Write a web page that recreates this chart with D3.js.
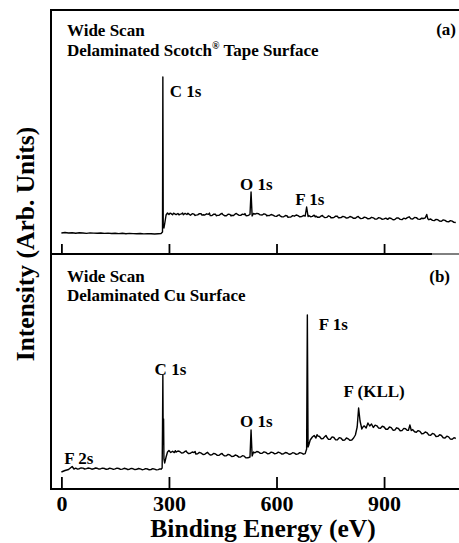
<!DOCTYPE html>
<html>
<head>
<meta charset="utf-8">
<script src="https://cdn.jsdelivr.net/npm/d3@7"></script>
<style>
  body { margin: 0; background: #fff; }
  svg text { font-family: "Liberation Serif", "Times New Roman", serif; font-weight: bold; fill: #000; }
</style>
</head>
<body>
<script>
// dimensions
var width = 459, height = 543;
var frameLeft = 51, frameRight = 459;
var topY0 = 10, midY = 254, botY = 489;

// data: [binding energy (eV), intensity (arb.)]
var tickValues = [0, 300, 600, 900];
var panelTags = ["(a)", "(b)"];

var scotchSpectrum = [
  [0,21],[10,21.5],[20,21],[30,21.3],[40,20.8],[50,21.2],[60,21],[70,20.6],[80,21.1],[90,20.9],
  [100,20.7],[110,21],[120,20.6],[130,20.9],[140,20.5],[150,20.8],[160,20.4],[170,20.7],[180,20.3],[190,20.6],
  [200,20.4],[210,20.2],[220,20.5],[230,20.1],[240,20.4],[250,20.2],[260,20],[270,20.3],[278,20.5],[282,22],
  [283,177],[284,30],[286,26],[288,30],[292,39],[296,41],[300,39.5],[303,40.9],[305,40.6],[310,39.2],[313,40.8],[315,40.4],[320,39.4],
  [325,40.5],[328,39.1],[330,39.6],[335,40.2],[338,41],[340,39.2],[345,40.6],[350,39.5],[353,40.7],[355,40.1],[360,38.8],[365,40.3],[370,39.8],
  [373,38.5],[375,38.9],[380,39.1],[385,40.4],[390,40.3],[392,38.9],[395,39.2],[400,39],[405,40.2],[410,39.6],[413,40.9],[415,38.4],[420,38.5],
  [425,39.9],[430,39.8],[432,38.2],[435,38.6],[440,38.7],[445,40.1],[448,40.7],[450,39.5],[455,38.3],[460,38.2],[465,39.8],[470,39.6],
  [473,38.1],[475,38.7],[480,38.4],[485,40.1],[488,40.6],[490,39.9],[495,38.8],[500,38.6],[505,39.9],[510,39.3],[512,40.4],[515,38.3],[520,38.4],
  [526,39.5],[529,62],[532,38],[536,40.5],[540,39.8],[545,40.6],[550,40.3],[553,39.4],[555,39.1],[560,39],[565,40.2],
  [570,39.6],[573,38.1],[575,38.6],[580,38.4],[585,39.5],[590,38.9],[595,37.9],[600,37.6],[605,38.8],[608,39.2],[610,38.2],[615,37.1],
  [620,37.2],[625,38.5],[630,38],[632,36.6],[635,36.9],[640,37],[645,38.4],[650,37.8],[655,39],[660,38.3],[665,37.2],
  [670,37.4],[675,38.5],[680,38],[684,47],[688,37.5],[690,38.4],[695,37.3],[700,37.6],[705,38.8],[708,37.1],[710,37.9],
  [715,36.7],[720,36.8],[725,38.1],[728,38.6],[730,37.5],[735,36.4],[740,36.6],[745,38.2],[750,37.4],[752,36.1],[755,36.3],[760,36.5],
  [765,37.9],[770,37.7],[773,36.1],[775,36.2],[780,36.4],[785,37.6],[790,37.1],[795,35.9],[800,36.2],[805,37.5],[810,36.9],
  [815,35.7],[820,35.8],[825,37.1],[828,37.6],[830,36.6],[835,35.4],[840,35.6],[845,36.9],[850,36.3],[855,35.2],[860,35.4],
  [865,36.7],[870,36.2],[875,34.9],[880,35],[885,36.4],[890,35.9],[895,34.7],[900,35.1],[905,35.9],[910,34.6],
  [915,36.1],[920,35.5],[925,34.2],[930,34.5],[935,36],[940,36],[945,34.6],[950,34.4],[955,35.8],[960,35.2],
  [965,36.3],[970,37.2],[975,35.1],[980,35],[985,36.5],[990,36.4],[995,34.9],[1000,34.6],[1005,35.8],[1010,35.5],
  [1015,36.2],[1019,39.5],[1022,35.2],[1025,34.3],[1030,35],[1035,33.6],[1040,33.4],[1045,34.6],[1050,34.2],[1055,32.9],
  [1060,32.8],[1065,34.1],[1070,33.6],[1075,32.4],[1080,32.2],[1085,33.4],[1090,32.9],[1095,31.6],[1100,31.5]
];

var copperSpectrum = [
  [0,17],[10,18.5],[20,19.5],[25,21],[30,22.5],[35,20],[40,20.8],[45,19.9],[50,20.3],[55,21.1],[60,20.9],
  [65,20],[70,20.4],[75,21],[80,20.6],[85,19.8],[90,20.2],[95,21],[100,20.7],[105,19.9],[110,20.3],[115,20.9],
  [120,20.5],[125,19.7],[130,20],[135,20.8],[140,20.4],[145,19.6],[150,20.1],[155,20.9],[160,20.5],[165,19.6],
  [170,19.9],[175,20.7],[180,20.3],[185,19.5],[190,19.8],[195,20.6],[200,20.2],[205,19.4],[210,19.7],[215,20.5],
  [220,20.1],[225,19.3],[230,19.6],[235,20.4],[240,20],[245,19.2],[250,19.5],[255,20.3],[260,19.9],[265,19.1],
  [270,19.4],[275,20.2],[278,19.8],[281,21],[282,60],[283,114],[284,45],[285,70],[286,30],[288,26],[292,32],
  [296,37],[300,38.5],[303,37.2],[305,36.5],[310,37.8],[315,36.4],[318,38.3],[320,36.9],[325,38],[330,37.5],[335,36],[340,36.2],
  [345,37.6],[348,38.1],[350,36.8],[355,35.4],[360,35.7],[365,37],[370,36.4],[373,37.5],[375,35],[380,35.2],[385,36.6],[390,35.9],
  [395,34.5],[400,34.8],[405,36.1],[408,36.7],[410,35.5],[415,34],[420,34.3],[425,35.6],[430,35],[435,33.6],[440,33.8],
  [445,35.1],[448,35.6],[450,34.5],[455,33.1],[460,33.2],[465,34.6],[470,34],[475,32.5],[480,32.6],[485,34],[490,33.4],
  [495,31.9],[500,32],[505,33.3],[510,32.8],[515,31.1],[520,31.2],[526,32],[529,59],[532,33],[536,37],
  [540,36.2],[545,37.5],[550,37],[555,35.6],[560,35.8],[565,37.1],[570,36.6],[575,35.2],[580,35.5],[585,36.9],
  [590,36.4],[595,35.1],[600,35.6],[605,36.8],[610,36.2],[615,34.9],[620,35.3],[625,36.5],[630,36],[635,34.7],
  [640,35],[645,36.3],[650,35.8],[655,34.6],[660,35.2],[665,36.4],[670,35.9],[675,34.8],[680,35.4],[684,40],
  [686,174],[688,42],[690,44],[694,49],[700,52],[705,53.5],[710,51],[713,54.4],[715,53.2],[720,52.5],[725,50.2],
  [730,50.5],[735,52.6],[738,53.6],[740,52],[745,49.6],[750,49.8],[755,52.1],[760,51.5],[765,49.1],[770,49.2],[775,51.4],
  [780,50.8],[785,48.7],[790,48.9],[795,51],[800,50.2],[805,48.6],[810,49],[815,51],[820,54],[825,62],
  [829,81],[833,68],[838,60],[842,62.5],[845,63],[850,61],[855,66],[860,63],[865,65],[870,61.5],
  [875,63.9],[880,63.2],[885,60.9],[890,60.8],[895,62.8],[900,62],[905,59.7],[910,59.8],[915,62],[920,61.3],
  [925,58.8],[930,58.9],[935,61.2],[940,60.5],[945,58.3],[950,58.4],[955,60.6],[960,60.2],[965,58.6],[968,58.8],
  [972,64],[976,58.5],[980,59.4],[985,57.2],[990,56.8],[995,58.4],[1000,57.6],[1005,55.3],[1010,55.4],[1015,57.1],
  [1020,56.2],[1025,53.9],[1030,53.8],[1035,55.6],[1040,54.9],[1045,52.5],[1050,52.6],[1055,54.3],[1060,53.5],[1065,51.2],
  [1070,51],[1075,52.8],[1080,52.1],[1085,49.9],[1090,49.8],[1095,51.3],[1100,50.5]
];

// peak labels: [text, eV of label left edge, intensity at baseline]
var scotchLabels = [["C 1s", 302, 157], ["O 1s", 498, 64], ["F 1s", 652, 49]];
var copperLabels = [["F 2s", 8, 25], ["C 1s", 260, 114], ["O 1s", 498, 62], ["F 1s", 718, 159], ["F (KLL)", 787, 92]];

var svg = d3.select("body").append("svg")
    .attr("width", width)
    .attr("height", height);

var x = d3.scaleLinear().domain([-29, 1109]).range([frameLeft, frameRight]);
var yTop = d3.scaleLinear().domain([0, 244]).range([midY, topY0]);
var yBot = d3.scaleLinear().domain([0, 235]).range([botY, midY]);

// frame
svg.append("line").attr("x1", frameLeft).attr("x2", frameLeft).attr("y1", topY0 - 1).attr("y2", botY + 1)
    .attr("stroke", "#000").attr("stroke-width", 2);
svg.append("line").attr("x1", frameLeft).attr("x2", frameRight).attr("y1", topY0).attr("y2", topY0)
    .attr("stroke", "#000").attr("stroke-width", 1.8);
svg.append("line").attr("x1", frameLeft).attr("x2", 432).attr("y1", midY).attr("y2", midY)
    .attr("stroke", "#000").attr("stroke-width", 1.8);
svg.append("line").attr("x1", 432).attr("x2", frameRight).attr("y1", midY).attr("y2", midY)
    .attr("stroke", "#000").attr("stroke-width", 1);

// top panel ticks (no labels)
var axTop = svg.append("g").attr("transform", "translate(0," + midY + ")")
    .call(d3.axisBottom(x).tickValues(tickValues).tickSizeInner(-10).tickSizeOuter(0).tickFormat(""));
axTop.select(".domain").remove();
axTop.selectAll(".tick line").attr("stroke", "#000").attr("stroke-width", 1.8);

// bottom axis
var axBot = svg.append("g").attr("transform", "translate(0," + botY + ")")
    .call(d3.axisBottom(x).tickValues(tickValues).tickSizeInner(-12).tickSizeOuter(0).tickPadding(6));
axBot.select(".domain").attr("stroke", "#000").attr("stroke-width", 2)
    .attr("d", "M" + frameLeft + ",0H" + frameRight);
axBot.selectAll(".tick line").attr("stroke", "#000").attr("stroke-width", 1.8);
axBot.selectAll(".tick text")
    .attr("font-family", null).attr("font-size", null)
    .style("font-size", "22px").attr("y", 22).attr("dy", null);

// spectra
var lineTop = d3.line().x(function(d) { return x(d[0]); }).y(function(d) { return yTop(d[1]); });
var lineBot = d3.line().x(function(d) { return x(d[0]); }).y(function(d) { return yBot(d[1]); });

svg.append("path").datum(scotchSpectrum).attr("d", lineTop)
    .attr("fill", "none").attr("stroke", "#000").attr("stroke-width", 1.4).attr("stroke-linejoin", "round");
svg.append("path").datum(copperSpectrum).attr("d", lineBot)
    .attr("fill", "none").attr("stroke", "#000").attr("stroke-width", 1.4).attr("stroke-linejoin", "round");

// peak labels
svg.selectAll(".lblTop").data(scotchLabels).enter().append("text")
    .attr("class", "lblTop")
    .attr("x", function(d) { return x(d[1]); })
    .attr("y", function(d) { return yTop(d[2]); })
    .style("font-size", "17px")
    .text(function(d) { return d[0]; });
svg.selectAll(".lblBot").data(copperLabels).enter().append("text")
    .attr("class", "lblBot")
    .attr("x", function(d) { return x(d[1]); })
    .attr("y", function(d) { return yBot(d[2]); })
    .style("font-size", "17px")
    .text(function(d) { return d[0]; });

// panel headers
svg.append("text").attr("x", 67).attr("y", 36).style("font-size", "17px").text("Wide Scan");
var t2 = svg.append("text").attr("x", 67).attr("y", 56).style("font-size", "17px");
t2.append("tspan").text("Delaminated Scotch");
t2.append("tspan").attr("dy", -7).style("font-size", "10px").text("®");
t2.append("tspan").attr("dy", 7).text(" Tape Surface");
svg.append("text").attr("x", 456).attr("y", 35).attr("text-anchor", "end").style("font-size", "17px").text(panelTags[0]);

svg.append("text").attr("x", 67).attr("y", 282).style("font-size", "17px").text("Wide Scan");
svg.append("text").attr("x", 67).attr("y", 301).style("font-size", "17px").text("Delaminated Cu Surface");
svg.append("text").attr("x", 450).attr("y", 282).attr("text-anchor", "end").style("font-size", "17px").text(panelTags[1]);

// axis titles
svg.append("text").attr("x", 263).attr("y", 537).attr("text-anchor", "middle")
    .style("font-size", "25.5px").text("Binding Energy (eV)");
svg.append("text").attr("transform", "translate(34,244) rotate(-90)").attr("text-anchor", "middle")
    .style("font-size", "25.5px").text("Intensity (Arb. Units)");
</script>
</body>
</html>
